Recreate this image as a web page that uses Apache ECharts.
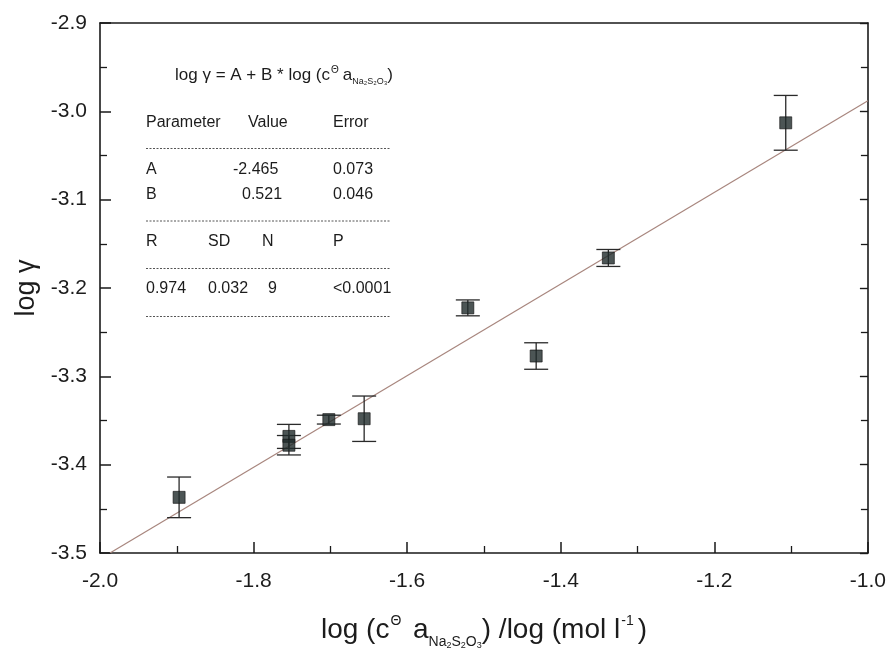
<!DOCTYPE html>
<html><head><meta charset="utf-8">
<script src="https://cdn.jsdelivr.net/npm/echarts@6/dist/echarts.min.js"></script>
<style>html,body{margin:0;padding:0;background:#fff}#c{width:889px;height:655px}</style>
</head><body><div id="c"></div>
<script>
// data
const xVals = [-1.897, -1.754, -1.754, -1.702, -1.656, -1.521, -1.432, -1.338, -1.107];
const yVals = [-3.437, -3.368, -3.378, -3.349, -3.348, -3.2225, -3.277, -3.166, -3.013];
const yErr  = [0.023, 0.0136, 0.011, 0.005, 0.0257, 0.009, 0.015, 0.0096, 0.031];
const fitLine = [[-1.987, -3.500], [-1.0, -2.988]];
const xTicks = [-2.0, -1.8, -1.6, -1.4, -1.2, -1.0];
const yTicks = [-3.5, -3.4, -3.3, -3.2, -3.1, -3.0, -2.9];
const tableHeader = ['Parameter', 'Value', 'Error'];
const tableParams = [['A', '-2.465', '0.073'], ['B', '0.521', '0.046']];
const statsHeader = ['R', 'SD', 'N', 'P'];
const statsVals = ['0.974', '0.032', '9', '<0.0001'];

const font = '"Liberation Sans", Arial, sans-serif';
const chart = echarts.init(document.getElementById('c'), null, {renderer: 'canvas'});

const pts = xVals.map((x, i) => [x, yVals[i]]);
const errData = xVals.map((x, i) => [x, yVals[i] - yErr[i], yVals[i] + yErr[i]]);

// table graphics
const tfs = 16;
const tcol = '#1c1c1c';
const graphics = [];
function txt(x, y, s) { graphics.push({type: 'text', x: x, y: y, style: {text: s, font: tfs + 'px ' + font, fill: tcol, verticalAlign: 'middle'}}); }
function dash(y) { graphics.push({type: 'line', shape: {x1: 146, y1: y, x2: 390, y2: y}, style: {stroke: '#555', lineWidth: 1, lineDash: [2, 1.5]}}); }
graphics.push({type: 'text', x: 175, y: 75, style: {
  verticalAlign: 'middle',
  rich: {
    n: {fontSize: 17, fontFamily: font, fill: tcol},
    sup: {fontSize: 10, fontFamily: font, fill: tcol, padding: [0, 4, 10, 1]},
    sub: {fontSize: 9, fontFamily: font, fill: tcol, padding: [13, 0, 0, 0]}
  },
  text: '{n|log γ = A + B * log (c}{sup|Θ}{n|a}{sub|Na₂S₂O₃}{n|)}'
}});
txt(146, 123, tableHeader[0]); txt(248, 123, tableHeader[1]); txt(333, 123, tableHeader[2]);
dash(148.5);
txt(146, 170, tableParams[0][0]); txt(233, 170, tableParams[0][1]); txt(333, 170, tableParams[0][2]);
txt(146, 195, tableParams[1][0]); txt(242, 195, tableParams[1][1]); txt(333, 195, tableParams[1][2]);
dash(221);
const colX4 = [146, 208, 262, 333];
statsHeader.forEach((s, i) => txt(colX4[i], 242, s));
dash(268.5);
const colV4 = [146, 208, 268, 333];
statsVals.forEach((s, i) => txt(colV4[i], 289, s));
dash(316.5);

const axisLine = {show: true, onZero: false, lineStyle: {color: '#1a1a1a', width: 1.6}};
const majTick = {inside: true, length: 11, lineStyle: {color: '#1a1a1a', width: 1.5}};
const minTick = {show: true, splitNumber: 2, length: 7, lineStyle: {color: '#1a1a1a', width: 1.3}};
const labelStyle = {fontSize: 21, fontFamily: font, color: '#1c1c1c', formatter: v => v.toFixed(1)};

chart.setOption({
  animation: false,
  grid: {left: 100, right: 21, top: 23, bottom: 102},
  graphic: graphics,
  xAxis: [{
    type: 'value', min: -2.0, max: -1.0, interval: 0.2, position: 'bottom',
    axisLine, splitLine: {show: false},
    axisTick: majTick, minorTick: minTick,
    axisLabel: {...labelStyle, margin: 18},
    name: '{n|log (c}{sup|Θ}{n| a}{sub|Na}{s2|2}{sub|S}{s2|2}{sub|O}{s2|3}{n|) /log (mol l}{sup|-1}{n|)}',
    nameLocation: 'middle', nameGap: 58,
    nameTextStyle: {fontSize: 28, fontFamily: font, color: '#1c1c1c',
      rich: {
        n: {fontSize: 28, fontFamily: font, color: '#1c1c1c'},
        sup: {fontSize: 14, fontFamily: font, color: '#1c1c1c', padding: [0, 4, 18, 1]},
        sub: {fontSize: 14, fontFamily: font, color: '#1c1c1c', padding: [24, 0, 0, 0]},
        s2: {fontSize: 9, fontFamily: font, color: '#1c1c1c', padding: [30, 0, 0, 0]}
      }}
  }, {
    type: 'value', min: -2.0, max: -1.0, interval: 0.2, position: 'top',
    axisLine, splitLine: {show: false},
    axisTick: {show: false}, axisLabel: {show: false}
  }],
  yAxis: [{
    type: 'value', min: -3.5, max: -2.9, interval: 0.1, position: 'left',
    axisLine, splitLine: {show: false},
    axisTick: majTick, minorTick: minTick,
    axisLabel: {...labelStyle, margin: 13},
    name: 'log γ', nameLocation: 'middle', nameGap: 56, nameRotate: 90,
    nameTextStyle: {fontSize: 27, fontFamily: font, color: '#1c1c1c'}
  }, {
    type: 'value', min: -3.5, max: -2.9, interval: 0.1, position: 'right',
    axisLine, splitLine: {show: false},
    axisTick: {inside: true, length: 8, lineStyle: {color: '#1a1a1a', width: 1.4}},
    minorTick: {show: true, splitNumber: 2, length: 7, lineStyle: {color: '#1a1a1a', width: 1.3}},
    axisLabel: {show: false}
  }],
  series: [{
    type: 'line', data: fitLine, showSymbol: false, symbol: 'none',
    lineStyle: {color: '#a8867e', width: 1.2}, z: 2
  }, {
    type: 'custom', data: errData, z: 3,
    renderItem: function (params, api) {
      const x = api.value(0);
      const lo = api.coord([x, api.value(1)]);
      const hi = api.coord([x, api.value(2)]);
      const w = 12;
      const st = {stroke: '#2a2a2a', lineWidth: 1.3, fill: null};
      return {type: 'group', children: [
        {type: 'line', shape: {x1: lo[0], y1: lo[1], x2: hi[0], y2: hi[1]}, style: st},
        {type: 'line', shape: {x1: lo[0] - w, y1: lo[1], x2: lo[0] + w, y2: lo[1]}, style: st},
        {type: 'line', shape: {x1: hi[0] - w, y1: hi[1], x2: hi[0] + w, y2: hi[1]}, style: st}
      ]};
    }
  }, {
    type: 'scatter', data: pts, symbol: 'rect', symbolSize: 12, z: 4,
    itemStyle: {color: '#1f2b2b', borderColor: '#111', borderWidth: 0.8}
  }]
});
</script></body></html>
